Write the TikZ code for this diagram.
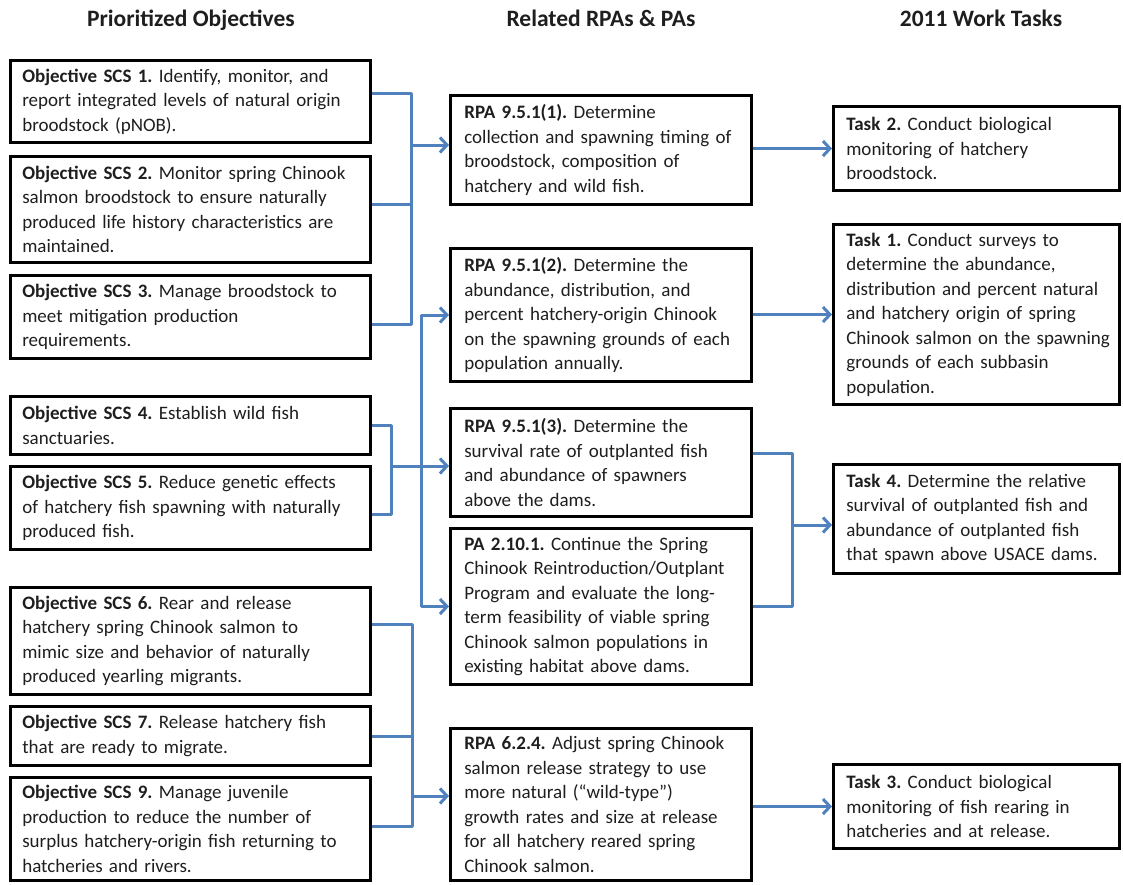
\documentclass[tikz,border=0pt]{standalone}
\usepackage{fontspec}
\setmainfont{Carlito}
\usetikzlibrary{arrows.meta}
\definecolor{connblue}{RGB}{79,129,189}
\definecolor{txt}{RGB}{30,30,30}
\newcommand\Lx[1]{\mbox{#1}}
\frenchspacing
\tikzset{
  box/.style={draw=black, line width=2.6pt, anchor=north west, align=left, inner ysep=2pt,
    text=txt, font=\fontsize{19}{24.5}\selectfont},
  lbox/.style={box, text width=336.4pt, inner xsep=12pt},
  mbox/.style={box, text width=273.4pt, inner xsep=14pt},
  rbox/.style={box, text width=260.4pt, inner xsep=13pt},
  hdr/.style={anchor=base, text=txt, font=\fontsize{23.5}{28}\selectfont\bfseries},
  conn/.style={draw=connblue, line width=3pt, line join=round},
  tip/.style={conn, -{Straight Barb[length=7pt,width=15pt]}},
}
\begin{document}
\begin{tikzpicture}[x=1pt,y=1pt]
\useasboundingbox (0,0) rectangle (1123,-884);

% headers
\node[hdr] (h1) at (191,-26) {Prioritized Objectives};
\node[hdr] (h2) at (601,-26) {Related RPAs \& PAs};
\node[hdr] (h3) at (981,-26) {2011 Work Tasks};

% left column
\node[lbox, minimum height=82.4pt] (s1) at (9,-59) {\Lx{\textbf{Objective SCS 1.} Identify, monitor, and}\\ \Lx{report integrated levels of natural origin}\\ \Lx{broodstock (pNOB).}};
\node[lbox, minimum height=106.4pt] (s2) at (9,-155) {\Lx{\textbf{Objective SCS 2.} Monitor spring Chinook}\\ \Lx{salmon broodstock to ensure naturally}\\ \Lx{produced life history characteristics are}\\ \Lx{maintained.}};
\node[lbox, minimum height=83.4pt] (s3) at (9,-274) {\Lx{\textbf{Objective SCS 3.} Manage broodstock to}\\ \Lx{meet mitigation production}\\ \Lx{requirements.}};
\node[lbox, minimum height=58.4pt] (s4) at (9,-395) {\Lx{\textbf{Objective SCS 4.} Establish wild fish}\\ \Lx{sanctuaries.}};
\node[lbox, minimum height=83.4pt] (s5) at (9,-465) {\Lx{\textbf{Objective SCS 5.} Reduce genetic effects}\\ \Lx{of hatchery fish spawning with naturally}\\ \Lx{produced fish.}};
\node[lbox, minimum height=107.4pt] (s6) at (9,-586) {\Lx{\textbf{Objective SCS 6.} Rear and release}\\ \Lx{hatchery spring Chinook salmon to}\\ \Lx{mimic size and behavior of naturally}\\ \Lx{produced yearling migrants.}};
\node[lbox, minimum height=59.4pt] (s7) at (9,-705) {\Lx{\textbf{Objective SCS 7.} Release hatchery fish}\\ \Lx{that are ready to migrate.}};
\node[lbox, minimum height=103.4pt] (s9) at (9,-776) {\Lx{\textbf{Objective SCS 9.} Manage juvenile}\\ \Lx{production to reduce the number of}\\ \Lx{surplus hatchery-origin fish returning to}\\ \Lx{hatcheries and rivers.}};

% middle column
\node[mbox, minimum height=109.4pt] (r1) at (449,-94) {\Lx{\textbf{RPA 9.5.1(1).} Determine}\\ \Lx{collection and spawning timing of}\\ \Lx{broodstock, composition of}\\ \Lx{hatchery and wild fish.}};
\node[mbox, minimum height=133.4pt] (r2) at (449,-247) {\Lx{\textbf{RPA 9.5.1(2).} Determine the}\\ \Lx{abundance, distribution, and}\\ \Lx{percent hatchery-origin Chinook}\\ \Lx{on the spawning grounds of each}\\ \Lx{population annually.}};
\node[mbox, minimum height=108.4pt] (r3) at (449,-407) {\Lx{\textbf{RPA 9.5.1(3).} Determine the}\\ \Lx{survival rate of outplanted fish}\\ \Lx{and abundance of spawners}\\ \Lx{above the dams.}};
\node[mbox, minimum height=156.4pt] (pa) at (449,-527) {\Lx{\textbf{PA 2.10.1.} Continue the Spring}\\ \Lx{Chinook Reintroduction/Outplant}\\ \Lx{Program and evaluate the long-}\\ \Lx{term feasibility of viable spring}\\ \Lx{Chinook salmon populations in}\\ \Lx{existing habitat above dams.}};
\node[mbox, minimum height=152.4pt] (r6) at (449,-727) {\Lx{\textbf{RPA 6.2.4.} Adjust spring Chinook}\\ \Lx{salmon release strategy to use}\\ \Lx{more natural (“wild-type”)}\\ \Lx{growth rates and size at release}\\ \Lx{for all hatchery reared spring}\\ \Lx{Chinook salmon.}};

% right column
\node[rbox, minimum height=84.4pt] (t2) at (832,-105) {\Lx{\textbf{Task 2.} Conduct biological}\\ \Lx{monitoring of hatchery}\\ \Lx{broodstock.}};
\node[rbox, minimum height=180.4pt] (t1) at (832,-223) {\Lx{\textbf{Task 1.} Conduct surveys to}\\ \Lx{determine the abundance,}\\ \Lx{distribution and percent natural}\\ \Lx{and hatchery origin of spring}\\ \Lx{Chinook salmon on the spawning}\\ \Lx{grounds of each subbasin}\\ \Lx{population.}};
\node[rbox, minimum height=109.4pt] (t4) at (832,-463) {\Lx{\textbf{Task 4.} Determine the relative}\\ \Lx{survival of outplanted fish and}\\ \Lx{abundance of outplanted fish}\\ \Lx{that spawn above USACE dams.}};
\node[rbox, minimum height=84.4pt] (t3) at (832,-763) {\Lx{\textbf{Task 3.} Conduct biological}\\ \Lx{monitoring of fish rearing in}\\ \Lx{hatcheries and at release.}};

% bus A: SCS 1-3 -> RPA 9.5.1(1)
\coordinate (busA) at (411,-145);
\draw[conn] ([yshift=8.5pt]s1.east) -| (busA) |- ([yshift=-7pt]s3.east);
\draw[conn] ([yshift=5.5pt]s2.east) -- ++(39,0);
\draw[tip] (busA) -- (busA -| r1.west);

% bus B: -> RPA 9.5.1(2) and PA 2.10.1
\coordinate (busB) at (421,-460);
\draw[conn, {Straight Barb[length=7pt,width=15pt]}-{Straight Barb[length=7pt,width=15pt]}] (r2.west) -| (busB) |- (pa.west);

% bus C: SCS 4-5 -> RPA 9.5.1(3)
\coordinate (busC) at (391,-466);
\draw[conn] (s4.east) -| (busC) |- ([yshift=-6pt]s5.east);
\draw[tip] (busC) -- (busC -| r3.west);

% bus D: SCS 6,7,9 -> RPA 6.2.4
\coordinate (busD) at (412,-796);
\draw[conn] ([yshift=17pt]s6.east) -| (busD) |- ([yshift=3pt]s9.east);
\draw[conn] (s7.east) -- (s7.east -| busD);
\draw[tip] (busD) -- (busD -| r6.west);

% middle -> tasks
\draw[tip] (r1.east |- t2.west) -- (t2.west);
\draw[tip] (r2.east |- t1.west) -- (t1.west);
\coordinate (busE) at (792,-525);
\draw[conn] ([yshift=9.5pt]r3.east) -| (busE) |- (pa.east);
\draw[tip] (busE) -- (busE -| t4.west);
\draw[tip] (r6.east |- t3.west) -- (t3.west);
\end{tikzpicture}
\end{document}
